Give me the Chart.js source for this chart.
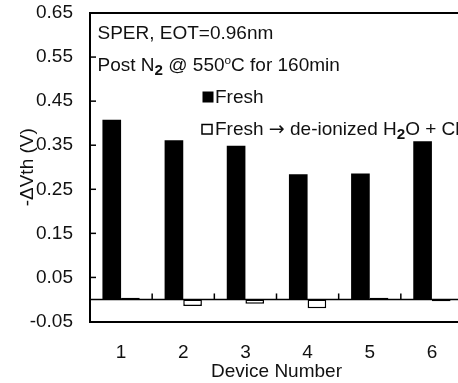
<!DOCTYPE html>
<html>
<head>
<meta charset="utf-8">
<script src="https://cdn.jsdelivr.net/npm/chart.js@4.4.0/dist/chart.umd.min.js"></script>
<style>
  html, body { margin: 0; padding: 0; background: #fff; overflow: hidden; }
  #wrap { width: 470px; height: 383px; }
</style>
</head>
<body>
<div id="wrap"><canvas id="chart"></canvas></div>
<script>
// threshold shift per device, before and after the rinse
const devices = ['1', '2', '3', '4', '5', '6'];
const freshShift = [0.408, 0.361, 0.349, 0.284, 0.286, 0.359];
const rinsedShift = [0.004, -0.015, -0.010, -0.020, 0.004, -0.004];
const yTickValues = [-0.05, 0.05, 0.15, 0.25, 0.35, 0.45, 0.55, 0.65];
// "_x" = subscript, "^x" = superscript
const seriesNames = ['Fresh', 'Fresh \u2192 de-ionized H_2O + Cl'];
const noteLines = ['SPER, EOT=0.96nm', 'Post N_2 @ 550^oC for 160min'];

const FONT = '"Liberation Sans", Arial, sans-serif';
const ARROW_FONT = '"DejaVu Sans", sans-serif';
const SIZE = 19;
const INK = '#111';

function drawRich(ctx, str, x, y) {
  const bits = str.split(/([_^])(\w)/);
  let cx = x;
  const put = (text, mark) => {
    let size = SIZE, dy = 0, weight = '', family = FONT;
    if (mark === '_') { size = SIZE * 0.8; dy = SIZE * 0.22; weight = 'bold '; }
    if (mark === '^') { size = SIZE * 0.62; dy = -SIZE * 0.36; }
    // the arrow glyph is tiny in Liberation, borrow DejaVu's
    text.split(/(\u2192)/).forEach(piece => {
      if (!piece) return;
      const f = piece === '\u2192' ? ARROW_FONT : family;
      ctx.font = weight + size + 'px ' + f;
      ctx.fillText(piece, cx, y + dy);
      cx += ctx.measureText(piece).width;
    });
  };
  for (let i = 0; i < bits.length; i += 3) {
    put(bits[i]);
    if (i + 2 < bits.length) put(bits[i + 2], bits[i + 1]);
  }
}

function line(ctx, x1, y1, x2, y2) {
  ctx.beginPath();
  ctx.moveTo(x1, y1);
  ctx.lineTo(x2, y2);
  ctx.stroke();
}

const framePlugin = {
  id: 'frame',
  afterDatasetsDraw(chart) {
    const { ctx, chartArea: a, scales: { x, y } } = chart;
    ctx.save();
    ctx.strokeStyle = '#000';

    ctx.lineWidth = 2;
    line(ctx, a.left - 1, a.top, a.right, a.top);

    const y0 = y.getPixelForValue(0);
    ctx.lineWidth = 1.5;
    line(ctx, a.left, y0, a.right, y0);

    // inward ticks on the value axis
    yTickValues.forEach(v => {
      if (v <= y.min || v >= y.max) return;
      const py = y.getPixelForValue(v);
      line(ctx, a.left, py, a.left + 6, py);
    });

    // category dividers standing on the zero line
    const half = (x.getPixelForValue(1) - x.getPixelForValue(0)) / 2;
    devices.forEach((d, i) => {
      const px = x.getPixelForValue(i) + half;
      line(ctx, px, y0, px, y0 - 6);
    });
    ctx.restore();
  },
  afterDraw(chart) {
    const { ctx } = chart;
    ctx.save();
    ctx.fillStyle = INK;
    ctx.textBaseline = 'alphabetic';
    drawRich(ctx, noteLines[0], 97.5, 38.5);
    drawRich(ctx, noteLines[1], 97.5, 70.5);

    // legend
    const sets = chart.data.datasets;
    ctx.fillStyle = sets[0].backgroundColor;
    ctx.fillRect(202.5, 91.5, 11, 11);
    ctx.fillStyle = sets[1].backgroundColor;
    ctx.strokeStyle = sets[1].borderColor;
    ctx.lineWidth = 1.5;
    ctx.fillRect(202, 124.5, 10, 9.5);
    ctx.strokeRect(202, 124.5, 10, 9.5);
    ctx.fillStyle = INK;
    drawRich(ctx, seriesNames[0], 215, 103);
    drawRich(ctx, seriesNames[1], 215, 135);
    ctx.restore();
  }
};

new Chart(document.getElementById('chart'), {
  type: 'bar',
  data: {
    labels: devices,
    datasets: [
      {
        label: seriesNames[0],
        data: freshShift,
        backgroundColor: '#000',
        borderWidth: 0,
        categoryPercentage: 0.6,
        barPercentage: 1
      },
      {
        label: seriesNames[1],
        data: rinsedShift,
        backgroundColor: '#fff',
        borderColor: '#000',
        borderWidth: 1.5,
        borderSkipped: false,
        categoryPercentage: 0.6,
        barPercentage: 1
      }
    ]
  },
  options: {
    responsive: true,
    maintainAspectRatio: false,
    animation: false,
    layout: { padding: { top: 13, right: 7, left: 0, bottom: 0 } },
    plugins: {
      legend: { display: false },
      tooltip: { enabled: false }
    },
    scales: {
      x: {
        grid: { drawOnChartArea: false, drawTicks: false },
        border: { color: '#000', width: 2 },
        ticks: { color: INK, padding: 20, font: { family: FONT, size: SIZE } },
        title: {
          display: true,
          text: 'Device Number',
          color: INK,
          font: { family: FONT, size: SIZE },
          padding: { top: 0, bottom: 0 }
        },
        afterFit: (scale) => {
          scale.height = 61.5;
          scale.paddingLeft = 0;
          scale.paddingRight = 0;
        }
      },
      y: {
        min: -0.05,
        max: 0.65,
        grid: { drawOnChartArea: false, drawTicks: false },
        border: { color: '#000', width: 2 },
        afterBuildTicks: (scale) => { scale.ticks = yTickValues.map(v => ({ value: v })); },
        ticks: {
          color: INK,
          padding: 17,
          font: { family: FONT, size: SIZE },
          callback: (v) => Number(v).toFixed(2)
        },
        title: {
          display: true,
          text: '-\u0394Vth (V)',
          color: INK,
          font: { family: FONT, size: SIZE },
          padding: { top: 16, bottom: 0 }
        },
        afterFit: (scale) => {
          scale.width = 90;
          scale.paddingTop = 0;
          scale.paddingBottom = 0;
        }
      }
    }
  },
  plugins: [framePlugin]
});
</script>
</body>
</html>
